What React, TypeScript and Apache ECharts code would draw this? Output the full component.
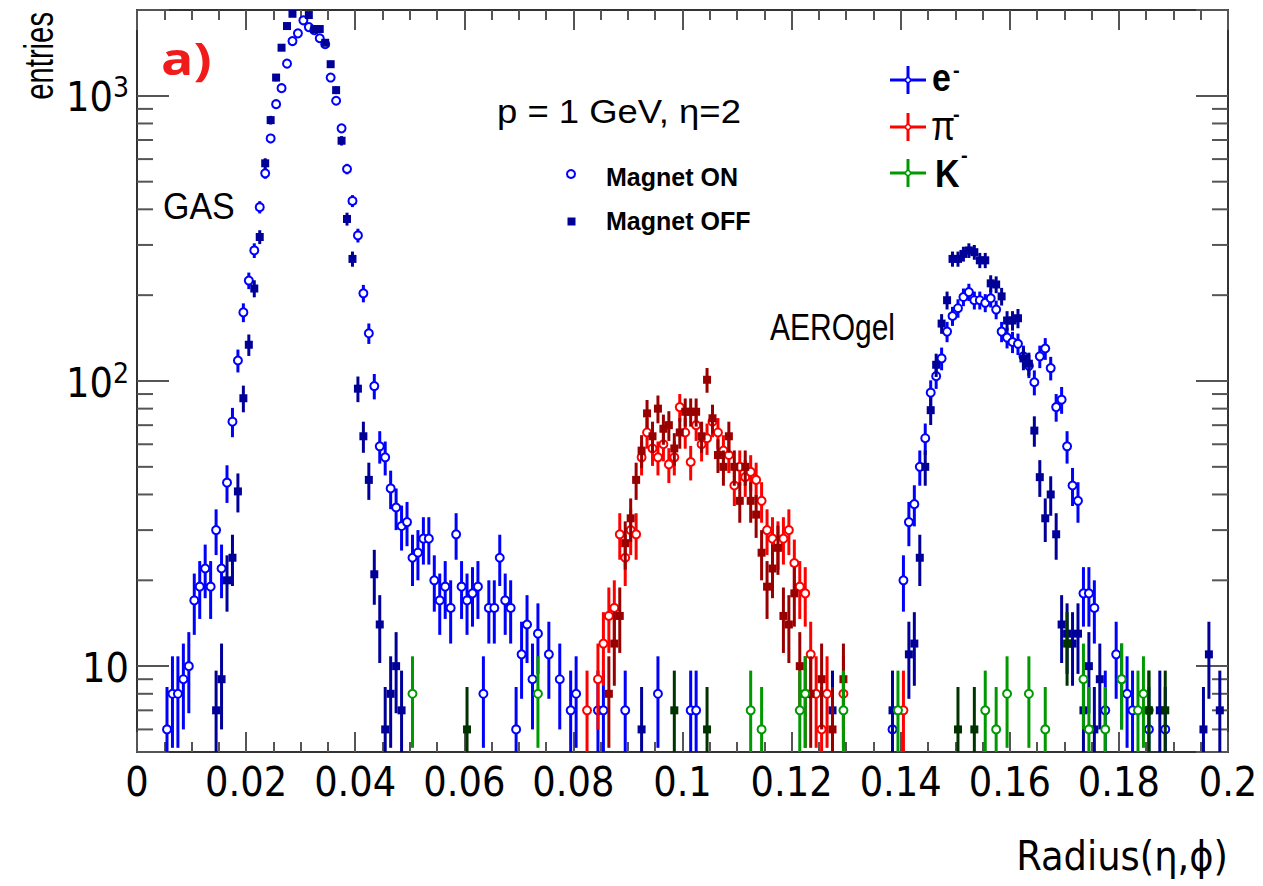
import React, { useEffect, useRef } from "react";
import * as echarts from "echarts";

type Bin = [number, number]; // [bin index, entries]

const BIN_WIDTH = 0.001;
const X_MIN = 0;
const X_MAX = 0.2;
const X_TICK_STEP = 0.02;
const Y_MIN = 5;
const Y_MAX = 2000;
const Y_MINOR_TICKS = [6, 7, 8, 9, 20, 30, 40, 50, 60, 70, 80, 90, 200, 300, 400, 500, 600, 700, 800, 900];

const eMagnetOn: Bin[] = [
  [5, 6], [6, 8], [7, 8], [8, 9], [9, 10], [10, 17], [11, 19], [12, 22], [13, 19], [14, 30], [15, 22],
  [16, 44], [17, 72], [18, 118], [19, 174], [20, 225], [21, 287], [22, 407], [23, 535], [24, 709],
  [25, 935], [26, 1064], [27, 1297], [28, 1556], [29, 1656], [30, 1840], [31, 1742], [32, 1700],
  [33, 1592], [34, 1517], [35, 1159], [36, 961], [37, 769], [38, 554], [39, 428], [40, 324], [41, 203],
  [42, 147], [43, 96], [44, 59], [45, 54], [46, 42], [47, 36], [48, 31], [49, 32], [50, 24], [51, 25],
  [52, 28], [53, 28], [54, 20], [55, 17], [56, 19], [57, 16], [58, 29], [59, 19], [60, 17], [61, 18],
  [62, 19], [63, 8], [64, 16], [65, 16], [66, 24], [67, 17], [68, 16], [69, 6], [70, 11], [71, 14],
  [72, 9], [73, 13], [75, 11], [77, 9], [79, 7], [80, 8], [84, 7], [85, 7], [89, 7], [95, 8], [101, 7],
  [102, 7], [138, 6], [140, 20], [141, 32], [142, 37], [143, 50], [144, 63], [145, 91], [146, 104],
  [147, 120], [148, 149], [149, 169], [150, 180], [151, 197], [152, 205], [153, 192], [154, 192],
  [155, 188], [156, 195], [157, 178], [158, 149], [159, 142], [160, 137], [161, 135], [162, 122],
  [163, 113], [164, 99], [165, 122], [166, 130], [167, 111], [168, 81], [169, 86], [170, 59], [171, 43],
  [172, 38], [173, 18], [174, 18], [175, 16], [177, 7], [179, 11], [180, 9], [181, 8], [182, 7],
  [185, 6], [188, 6],
];

const eMagnetOff: Bin[] = [
  [14, 7], [15, 9], [16, 20], [17, 24], [18, 41], [19, 87], [20, 134], [21, 211], [22, 320], [23, 580],
  [24, 822], [25, 1159], [26, 1475], [27, 1757], [28, 1940], [29, 2150], [30, 2200], [31, 1920],
  [32, 1715], [33, 1715], [34, 1535], [35, 1291], [36, 1047], [37, 696], [38, 370], [39, 268], [40, 94],
  [41, 64], [42, 45], [43, 21], [44, 14], [45, 6], [46, 8], [47, 10], [48, 7], [92, 6], [127, 7],
  [138, 7], [141, 11], [142, 12], [143, 24], [144, 50], [145, 79], [146, 114], [147, 159], [148, 192],
  [149, 268], [150, 268], [151, 279], [152, 287], [153, 283], [154, 265], [155, 265], [156, 220],
  [157, 218], [158, 198], [159, 163], [160, 163], [161, 166], [162, 120], [163, 115], [164, 67],
  [165, 46], [166, 33], [167, 40], [168, 29], [169, 14], [170, 13], [171, 12], [172, 13], [173, 7],
  [174, 10], [175, 6], [176, 9], [187, 7], [195, 6], [196, 11], [198, 7],
];

const piMagnetOn: Bin[] = [
  [82, 7], [84, 9], [85, 12], [86, 15], [87, 16], [88, 29], [89, 24], [90, 30], [91, 29], [92, 54],
  [93, 66], [94, 58], [95, 54], [96, 60], [97, 51], [98, 54], [99, 81], [100, 66], [101, 52], [102, 70],
  [103, 60], [104, 63], [105, 72], [106, 66], [107, 57], [108, 55], [109, 43], [110, 50], [111, 46],
  [112, 48], [113, 45], [114, 38], [115, 30], [116, 28], [117, 27], [118, 28], [119, 30], [120, 23],
  [121, 19], [122, 18], [123, 11], [124, 8], [125, 6], [126, 8], [129, 8], [140, 7],
];

const piMagnetOff: Bin[] = [
  [86, 8], [87, 12], [88, 15], [89, 27], [90, 33], [91, 45], [92, 57], [93, 77], [94, 64], [95, 80],
  [96, 68], [97, 70], [98, 58], [99, 66], [100, 78], [101, 78], [102, 78], [103, 64], [104, 101],
  [105, 74], [106, 55], [107, 50], [108, 64], [109, 50], [110, 38], [111, 50], [112, 38], [113, 34],
  [114, 25], [115, 19], [116, 22], [117, 26], [118, 15], [119, 14], [120, 18], [121, 10], [122, 8],
  [123, 8], [125, 9], [127, 6], [129, 9],
];

const kMagnetOn: Bin[] = [
  [50, 8], [73, 8], [112, 7], [114, 6], [121, 7], [122, 8], [129, 7], [139, 7], [155, 7], [157, 6],
  [159, 8], [163, 8], [166, 6], [173, 9], [174, 6], [177, 6], [180, 9], [183, 7], [184, 8], [185, 7],
];

const kMagnetOff: Bin[] = [
  [60, 6], [98, 7], [104, 6], [150, 6], [153, 6], [170, 12], [185, 7], [188, 7],
];

const COLORS = {
  eOn: "#0000ff",
  eOff: "#000099",
  piOn: "#ff0000",
  piOff: "#990000",
  kOn: "#009900",
  kOff: "#003300",
};

const SANS = "'Liberation Sans', Arial, Helvetica, sans-serif";
const NARROW = "'Liberation Sans Narrow', 'DejaVu Sans Condensed', 'Liberation Sans', sans-serif";
const AXIS_COLOR = "#333";
const TICK_COLOR = "#555";

function histSeries(name: string, bins: Bin[], color: string, marker: "circle" | "square", z: number) {
  return {
    type: "custom",
    name,
    z,
    clip: true,
    silent: true,
    coordinateSystem: "cartesian2d",
    encode: { x: 0, y: 1 },
    data: bins.map(([k, n]) => [(k + 0.5) * BIN_WIDTH, n]),
    renderItem: (_params: any, api: any) => {
      const x = api.value(0) as number;
      const n = api.value(1) as number;
      const err = Math.sqrt(n);
      const c = api.coord([x, n]);
      const hi = api.coord([x, n + err]);
      const lo = api.coord([x, Math.max(n - err, 0.1)]);
      const children: any[] = [
        {
          type: "line",
          shape: { x1: c[0], y1: hi[1], x2: c[0], y2: lo[1] },
          style: { stroke: color, lineWidth: 3 },
        },
      ];
      if (marker === "circle") {
        children.push({
          type: "circle",
          shape: { cx: c[0], cy: c[1], r: 4 },
          style: { fill: "#fff", stroke: color, lineWidth: 2 },
        });
      } else {
        children.push({
          type: "rect",
          shape: { x: c[0] - 4, y: c[1] - 4, width: 8, height: 8 },
          style: { fill: color },
        });
      }
      return { type: "group", children };
    },
  };
}

function minorTickSeries() {
  return {
    type: "custom",
    silent: true,
    z: 1,
    coordinateSystem: "cartesian2d",
    encode: { x: 0, y: 1 },
    data: Y_MINOR_TICKS.map((v) => [X_MIN, v]),
    renderItem: (_params: any, api: any) => {
      const v = api.value(1) as number;
      const l = api.coord([X_MIN, v]);
      const r = api.coord([X_MAX, v]);
      return {
        type: "group",
        children: [
          { type: "line", shape: { x1: l[0], y1: l[1], x2: l[0] + 16, y2: l[1] }, style: { stroke: TICK_COLOR, lineWidth: 2 } },
          { type: "line", shape: { x1: r[0], y1: r[1], x2: r[0] - 16, y2: r[1] }, style: { stroke: TICK_COLOR, lineWidth: 2 } },
        ],
      };
    },
  };
}

function text(t: string, x: number, y: number, o: any = {}) {
  return {
    type: "text",
    x,
    y,
    scaleX: o.scaleX ?? 1,
    scaleY: o.scaleY ?? 1,
    rotation: o.rotation ?? 0,
    z: 100,
    style: {
      text: t,
      fill: o.fill ?? "#000",
      fontSize: o.fontSize ?? 30,
      fontWeight: o.fontWeight ?? "normal",
      fontFamily: o.fontFamily ?? SANS,
      align: o.align ?? "left",
      textAlign: o.align ?? "left",
      verticalAlign: "middle",
      textVerticalAlign: "middle",
    },
  };
}

function cross(cx: number, cy: number, color: string) {
  return [
    { type: "line", z: 100, shape: { x1: cx - 18, y1: cy, x2: cx + 18, y2: cy }, style: { stroke: color, lineWidth: 3 } },
    { type: "line", z: 100, shape: { x1: cx, y1: cy - 14, x2: cx, y2: cy + 14 }, style: { stroke: color, lineWidth: 3 } },
    { type: "circle", z: 101, shape: { cx, cy, r: 2.5 }, style: { fill: "#fff", stroke: color, lineWidth: 1.5 } },
  ];
}

const xAxisBase = {
  type: "value",
  min: X_MIN,
  max: X_MAX,
  interval: X_TICK_STEP,
  splitLine: { show: false },
  axisLine: { show: true, onZero: false, lineStyle: { color: AXIS_COLOR, width: 2 } },
  axisTick: { show: true, inside: true, length: 20, lineStyle: { color: TICK_COLOR, width: 2 } },
  minorTick: { show: true, splitNumber: 4, length: 10, lineStyle: { color: TICK_COLOR, width: 2 } },
};

const yAxisBase = {
  type: "log",
  logBase: 10,
  min: Y_MIN,
  max: Y_MAX,
  splitLine: { show: false },
  axisLine: { show: true, onZero: false, lineStyle: { color: AXIS_COLOR, width: 2 } },
  axisTick: { show: true, inside: true, length: 32, lineStyle: { color: TICK_COLOR, width: 2 } },
  minorTick: { show: false },
};

function yLabel(v: number) {
  const lg = Math.log10(v);
  const e = Math.round(lg);
  if (Math.abs(lg - e) > 1e-6) return "";
  if (e === 1) return "{n|10}";
  return `{n|10}{s|${e}}`;
}

export default function App() {
  const ref = useRef<HTMLDivElement>(null);
  useEffect(() => {
    const chart = echarts.init(ref.current!, undefined, { renderer: "svg" });
    const option: any = {
      animation: false,
      backgroundColor: "#fff",
      grid: { left: 137, right: 35, top: 10, bottom: 134, containLabel: false },
      xAxis: [
        {
          ...xAxisBase,
          position: "bottom",
          axisLabel: { show: true, fontSize: 41, fontFamily: NARROW, color: "#000", margin: 9 },
        },
        { ...xAxisBase, position: "top", axisLabel: { show: false } },
      ],
      yAxis: [
        {
          ...yAxisBase,
          position: "left",
          axisLabel: {
            show: true,
            margin: 8,
            formatter: yLabel,
            rich: {
              n: { fontSize: 41, fontFamily: NARROW, color: "#000", lineHeight: 44, verticalAlign: "bottom" },
              s: { fontSize: 28, fontFamily: NARROW, color: "#000", lineHeight: 26, verticalAlign: "top" },
            },
          },
        },
        { ...yAxisBase, position: "right", axisLabel: { show: false } },
      ],
      series: [
        minorTickSeries(),
        histSeries("e- magnet ON", eMagnetOn, COLORS.eOn, "circle", 10),
        histSeries("e- magnet OFF", eMagnetOff, COLORS.eOff, "square", 11),
        histSeries("pi- magnet ON", piMagnetOn, COLORS.piOn, "circle", 12),
        histSeries("pi- magnet OFF", piMagnetOff, COLORS.piOff, "square", 13),
        histSeries("K- magnet ON", kMagnetOn, COLORS.kOn, "circle", 14),
        histSeries("K- magnet OFF", kMagnetOff, COLORS.kOff, "square", 15),
      ],
      graphic: [
        text("a)", 161, 58, { fontSize: 44, fontWeight: "bold", fontFamily: "'Open Sans', Lato, sans-serif", fill: "#f01c1c", scaleX: 1.22 }),
        text("GAS", 163, 206, { fontSize: 34, scaleY: 1.1 }),
        text("p = 1 GeV, η=2", 497, 111, { fontSize: 32, scaleX: 1.14, scaleY: 1.05 }),
        { type: "circle", z: 100, shape: { cx: 571, cy: 174, r: 4 }, style: { fill: "#fff", stroke: COLORS.eOn, lineWidth: 2 } },
        text("Magnet ON", 606, 177, { fontSize: 25, fontWeight: "bold" }),
        { type: "rect", z: 100, shape: { x: 567.5, y: 217.5, width: 8, height: 8 }, style: { fill: COLORS.eOff } },
        text("Magnet OFF", 606, 221, { fontSize: 25, fontWeight: "bold" }),
        ...cross(908, 80, COLORS.eOn),
        ...cross(908, 127, COLORS.piOn),
        ...cross(908, 173, COLORS.kOn),
        text("e", 932, 78, { fontSize: 34, fontWeight: "bold", scaleY: 1.15 }),
        text("-", 953, 70, { fontSize: 20, fontWeight: "bold" }),
        text("π", 931, 126, { fontSize: 35, scaleY: 1.15 }),
        text("-", 953, 114, { fontSize: 20, fontWeight: "bold" }),
        text("K", 935, 174, { fontSize: 34, fontWeight: "bold", scaleY: 1.15 }),
        text("-", 961, 155, { fontSize: 20, fontWeight: "bold" }),
        text("AEROgel", 770, 328, { fontSize: 30, scaleY: 1.2 }),
        text("entries", 39, 12, { fontSize: 34, rotation: Math.PI / 2, align: "right", scaleX: 0.86, scaleY: 1.2 }),
        text("Radius(η,ϕ)", 1228, 856, { fontSize: 41, align: "right", fontFamily: NARROW }),
      ],
    };
    chart.setOption(option);
    return () => chart.dispose();
  }, []);
  return (
    <div
      ref={ref}
      style={{ position: "absolute", left: 0, top: 0, width: 1263, height: 886, background: "#fff" }}
    />
  );
}
